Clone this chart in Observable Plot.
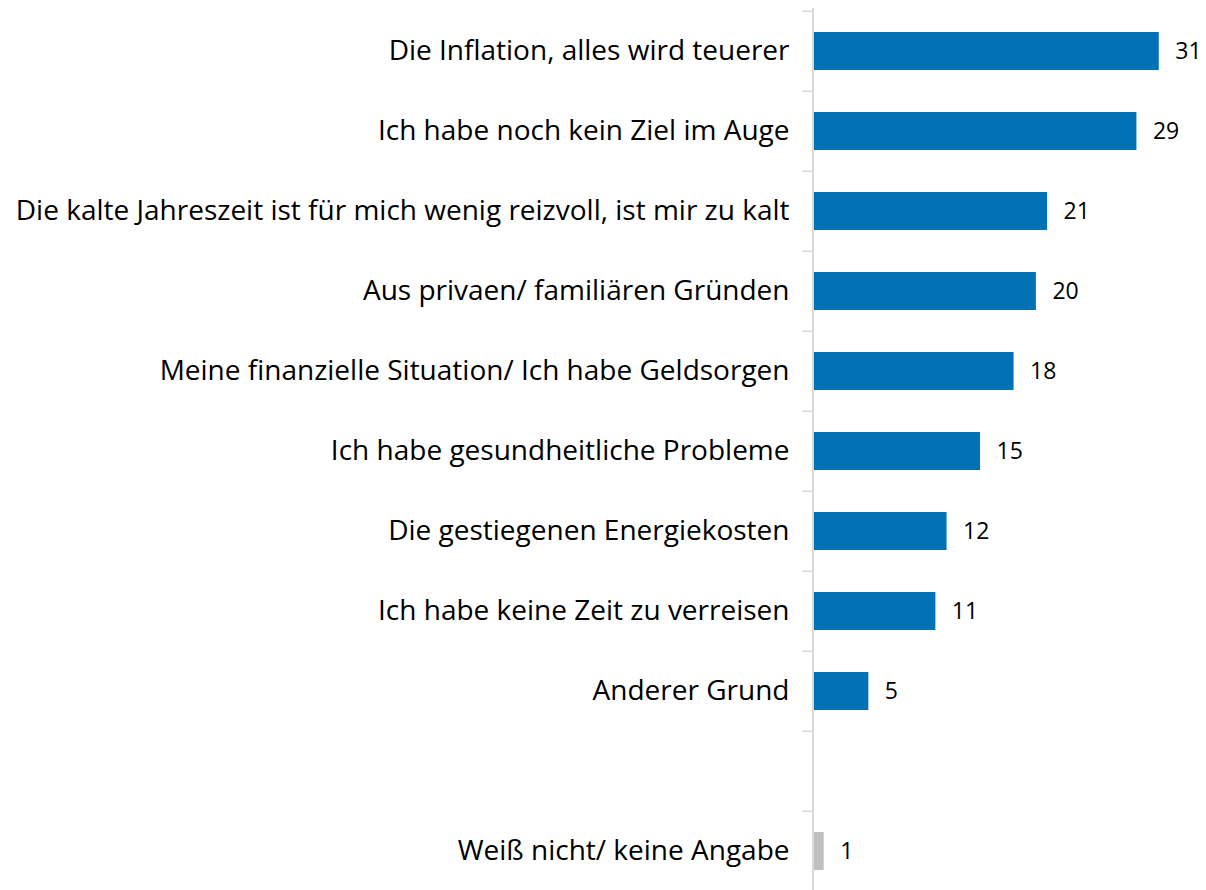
<!DOCTYPE html>
<html><head><meta charset="utf-8">
<script src="https://cdn.jsdelivr.net/npm/d3@7"></script>
<script src="https://cdn.jsdelivr.net/npm/@observablehq/plot@0.6"></script>
<style>body{margin:0;background:#fff}</style>
</head><body><div id="chart"></div>
<script>
const categories = [
  "Die Inflation, alles wird teuerer",
  "Ich habe noch kein Ziel im Auge",
  "Die kalte Jahreszeit ist für mich wenig reizvoll, ist mir zu kalt",
  "Aus privaen/ familiären Gründen",
  "Meine finanzielle Situation/ Ich habe Geldsorgen",
  "Ich habe gesundheitliche Probleme",
  "Die gestiegenen Energiekosten",
  "Ich habe keine Zeit zu verreisen",
  "Anderer Grund",
  "",
  "Weiß nicht/ keine Angabe"
];
const values = [31, 29, 21, 20, 18, 15, 12, 11, 5, null, 1];
const colors = ["#0272b6","#0272b6","#0272b6","#0272b6","#0272b6","#0272b6","#0272b6","#0272b6","#0272b6",null,"#c0c0c0"];

const data = categories.map((c, i) => ({cat: c, value: values[i], color: colors[i]})).filter(d => d.value != null);
const step = (893.5 - 8) / categories.length;

const chart = Plot.plot({
  width: 1206,
  height: 890,
  marginTop: 8,
  marginBottom: 0,
  marginLeft: 812,
  marginRight: 0,
  style: {fontFamily: "'Open Sans', sans-serif", background: "#fff"},
  x: {domain: [0, 35], range: [812.5, 812.5 + 35 * 11.17], axis: null},
  y: {domain: categories, range: [8, 893.5], paddingInner: 0.53, paddingOuter: 0.265, label: null},
  marks: [
    Plot.barX(data, {x: "value", y: "cat", fill: "color"}),
    Plot.ruleY(categories, {y: d => d, x1: -0.9, x2: 0, dy: -step / 2, stroke: "#d9d9d9", strokeWidth: 1.5}),
    Plot.ruleX([0], {stroke: "#d9d9d9", strokeWidth: 2}),
    Plot.axisY({tickSize: 0, tickPadding: 23, fontSize: 28, fill: "#000", label: null}),
    Plot.text(data, {x: "value", y: "cat", text: d => String(d.value), dx: 16, textAnchor: "start", fontSize: 23, fill: "#000"})
  ]
});
document.getElementById("chart").appendChild(chart);
</script>
</body></html>
